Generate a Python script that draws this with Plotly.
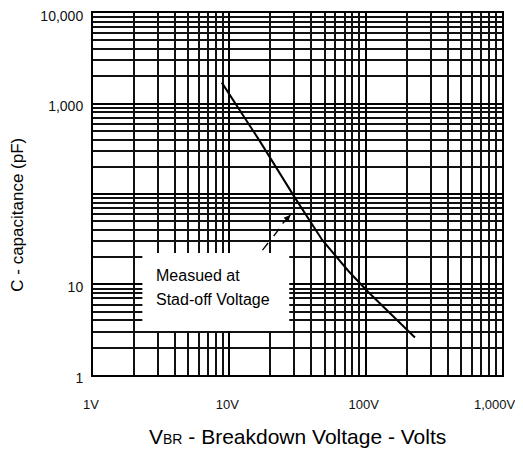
import math
import plotly.graph_objects as go

# ---- data ----
voltage_v = [8.8, 17, 30, 48, 75, 104, 230]
capacitance_pf = [1700, 370, 93, 31, 14, 8.3, 2.6]

x_tick_vals = [1, 10, 100, 1000]
x_tick_text = ["1V", "10V", "100V", "1,000V\u00a0\u00a0\u00a0"]
y_tick_vals = [1, 10, 100, 1000, 10000]
y_tick_text = ["1", "10", "", "1,000", "10,000"]

note_lines = ["Measued at", "Stad-off Voltage"]
note_box_x = [2.3, 27.5]
note_box_y = [3.06, 22.3]
note_text_x = 2.8
note_text_y = [12.7, 6.75]
arrow_x = [17.5, 28]
arrow_y = [24, 58.6]

FONT = "Liberation Sans, Arial, sans-serif"
lg = math.log10  # annotations on log axes are positioned in log units

fig = go.Figure()
fig.add_trace(go.Scatter(x=voltage_v, y=capacitance_pf, mode="lines",
                         line=dict(color="black", width=2), showlegend=False,
                         hoverinfo="skip"))
# dashed leader of the note arrow
fig.add_trace(go.Scatter(x=arrow_x, y=arrow_y, mode="lines",
                         line=dict(color="black", width=1.3, dash="dash"),
                         showlegend=False, hoverinfo="skip"))

# white label box covering the grid
fig.add_shape(type="rect", xref="x", yref="y",
              x0=note_box_x[0], x1=note_box_x[1], y0=note_box_y[0], y1=note_box_y[1],
              fillcolor="white", line=dict(width=0), layer="above")

for txt, ty in zip(note_lines, note_text_y):
    fig.add_annotation(x=lg(note_text_x), y=lg(ty), xref="x", yref="y", text=txt,
                       showarrow=False, xanchor="left", yanchor="middle",
                       font=dict(family=FONT, size=16, color="black"))

# arrow head
fig.add_annotation(x=lg(arrow_x[1]), y=lg(arrow_y[1]), xref="x", yref="y", text="",
                   showarrow=True, ax=-9, ay=10, arrowhead=2, arrowsize=1,
                   arrowwidth=1.3, arrowcolor="black", standoff=0)

grid_major = dict(showgrid=True, gridcolor="black", gridwidth=2)
minor_cfg = dict(dtick="D1", showgrid=True, gridcolor="#111", gridwidth=1.5, ticks="")

fig.update_xaxes(type="log", range=[-0.0005, 3.0005], tickmode="array",
                 tickvals=x_tick_vals, ticktext=x_tick_text,
                 ticks="", ticklabelstandoff=16, ticklabelshift=-2,
                 automargin=False, ticklabeloverflow="allow",
                 tickfont=dict(family=FONT, size=13, color="#111"),
                 showline=True, linecolor="black", linewidth=2, mirror=True,
                 minor=minor_cfg, zeroline=False, **grid_major)
fig.update_yaxes(type="log", range=[-0.0005, 4.0005], tickmode="array",
                 tickvals=y_tick_vals, ticktext=y_tick_text,
                 ticks="", ticklabelstandoff=5, ticklabelshift=3,
                 automargin=False, ticklabeloverflow="allow",
                 tickfont=dict(family=FONT, size=14, color="#111"),
                 showline=True, linecolor="black", linewidth=2, mirror=True,
                 minor=minor_cfg, zeroline=False, **grid_major)

# axis titles
fig.add_annotation(xref="paper", yref="paper", x=-0.184, y=0.442,
                   text="C - capacitance (pF)", textangle=-90, showarrow=False,
                   xanchor="center", yanchor="middle",
                   font=dict(family=FONT, size=17, color="black"))
fig.add_annotation(xref="paper", yref="paper", x=0.5, y=-0.171,
                   text="V<span style='font-size:14px'>BR</span> - Breakdown Voltage - Volts",
                   showarrow=False, xanchor="center", yanchor="middle",
                   font=dict(family=FONT, size=21, color="black"))

# the page body adds an 8px margin on every side, so the figure is sized to fit inside it
fig.update_layout(width=507, height=444,
                  margin=dict(l=85, r=13, t=5, b=77),
                  paper_bgcolor="white", plot_bgcolor="white",
                  showlegend=False)

fig.write_html("out.html")
